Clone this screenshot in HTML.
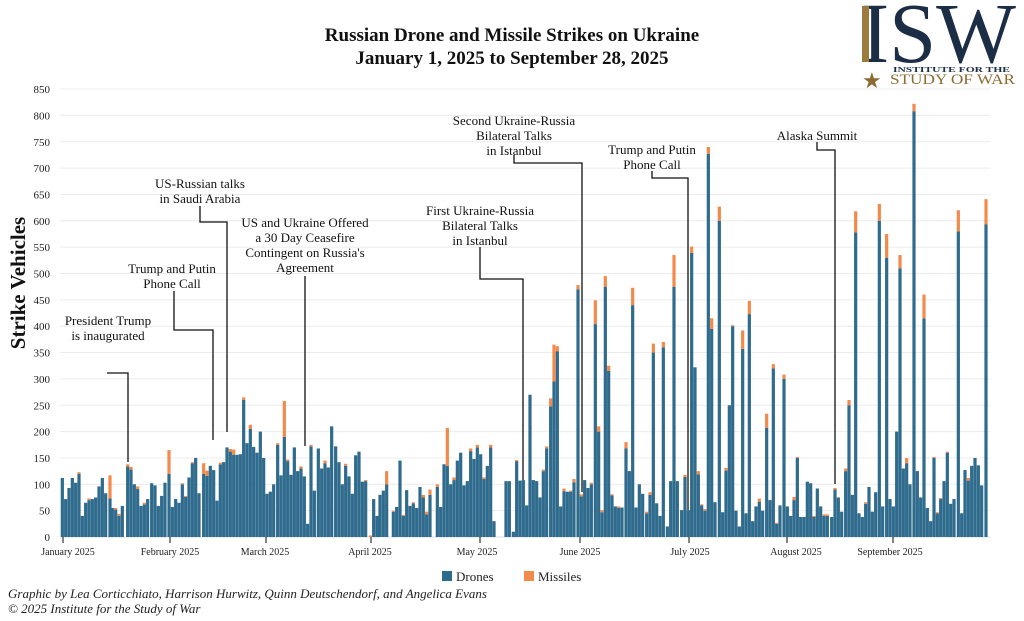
<!DOCTYPE html>
<html><head><meta charset="utf-8">
<style>
html,body{margin:0;padding:0;background:#fff;}
svg{display:block;font-family:"Liberation Serif",serif;}
</style></head>
<body>
<svg id="s" width="1024" height="621" viewBox="0 0 1024 621" xmlns="http://www.w3.org/2000/svg">
<rect width="1024" height="621" fill="#fff"/>
<g id="grid"></g>
<g id="bars"></g>
<g id="ann" fill="none" stroke="#111" stroke-width="1.3">
<polyline points="107,373 128,373 128,462"/>
<polyline points="174,291 174,330 213,330 213,440"/>
<polyline points="200,206 200,222 227,222 227,432"/>
<polyline points="305,276 305,446"/>
<polyline points="480,247 480,279 523,279 523,480"/>
<polyline points="514,155 514,163 582,163 582,492"/>
<polyline points="652,171 652,178 688,178 688,510"/>
<polyline points="817,142 817,150 835,150 835,484"/>
</g>
<g font-size="13" fill="#111" text-anchor="middle">
<text x="108" y="325">President Trump</text><text x="108" y="340">is inaugurated</text>
<text x="172" y="273">Trump and Putin</text><text x="172" y="288">Phone Call</text>
<text x="200" y="188">US-Russian talks</text><text x="200" y="203">in Saudi Arabia</text>
<text x="305" y="227">US and Ukraine Offered</text><text x="305" y="242">a 30 Day Ceasefire</text><text x="305" y="257">Contingent on Russia's</text><text x="305" y="272">Agreement</text>
<text x="480" y="215">First Ukraine-Russia</text><text x="480" y="230">Bilateral Talks</text><text x="480" y="245">in Istanbul</text>
<text x="514" y="125">Second Ukraine-Russia</text><text x="514" y="140">Bilateral Talks</text><text x="514" y="155">in Istanbul</text>
<text x="652" y="154">Trump and Putin</text><text x="652" y="169">Phone Call</text>
<text x="817" y="140">Alaska Summit</text>
</g>
<g font-weight="bold" font-size="19" fill="#111" text-anchor="middle">
<text x="512" y="41">Russian Drone and Missile Strikes on Ukraine</text>
<text x="512" y="64">January 1, 2025 to September 28, 2025</text>
</g>
<text transform="translate(25,283) rotate(-90)" text-anchor="middle" font-weight="bold" font-size="21" fill="#111">Strike Vehicles</text>
<g id="yl" font-size="11" fill="#222" text-anchor="end"></g>
<g id="xl" font-size="10" fill="#222" text-anchor="middle">
<text x="68" y="555">January 2025</text><text x="170" y="555">February 2025</text>
<text x="265" y="555">March 2025</text><text x="370" y="555">April 2025</text>
<text x="477" y="555">May 2025</text><text x="580" y="555">June 2025</text>
<text x="690" y="555">July 2025</text><text x="796" y="555">August 2025</text>
<text x="890" y="555">September 2025</text>
</g>
<g stroke="#333" stroke-width="1.2">
<line x1="63" y1="537" x2="63" y2="543"/><line x1="170" y1="537" x2="170" y2="543"/>
<line x1="266" y1="537" x2="266" y2="543"/><line x1="371" y1="537" x2="371" y2="543"/>
<line x1="480" y1="537" x2="480" y2="543"/><line x1="580" y1="537" x2="580" y2="543"/>
<line x1="689" y1="537" x2="689" y2="543"/><line x1="787" y1="537" x2="787" y2="543"/>
<line x1="893" y1="537" x2="893" y2="543"/>
</g>
<rect x="442" y="571" width="10" height="10" fill="#2f6b8c"/>
<text x="456" y="581" font-size="13" fill="#222">Drones</text>
<rect x="524" y="571" width="10" height="10" fill="#f28a4c"/>
<text x="538" y="581" font-size="13" fill="#222">Missiles</text>
<g font-style="italic" font-size="13" fill="#222">
<text x="8" y="598">Graphic by Lea Corticchiato, Harrison Hurwitz, Quinn Deutschendorf, and Angelica Evans</text>
<text x="8" y="613">© 2025 Institute for the Study of War</text>
</g>
<!-- logo -->
<g>
<text x="861" y="62" font-size="86" fill="#1b2e45" textLength="155" lengthAdjust="spacingAndGlyphs">ISW</text>
<rect x="862" y="6" width="7" height="56" fill="#9c7b3c"/>
<text x="893" y="72" font-size="7" font-weight="bold" fill="#1b2e45" textLength="117" lengthAdjust="spacingAndGlyphs">INSTITUTE FOR THE</text>
<text x="862" y="88" font-size="22" fill="#8c6a32">★</text>
<text x="890" y="84" font-size="15" fill="#8c6a32" textLength="125" lengthAdjust="spacingAndGlyphs">STUDY OF WAR</text>
</g>
</svg>
<script>
var NS="http://www.w3.org/2000/svg";
function el(p,t,a){var e=document.createElementNS(NS,t);for(var k in a)e.setAttribute(k,a[k]);p.appendChild(e);return e;}
var g=document.getElementById("grid"),yl=document.getElementById("yl");
function Y(v){return 537-v*0.527;}
for(var v=0;v<=850;v+=50){el(g,"line",{x1:60,x2:990,y1:Y(v),y2:Y(v),stroke:v?"#ececec":"#ddd","stroke-width":1});var t=el(yl,"text",{x:50,y:Y(v)+4});t.textContent=v;}
var z1=[[22,112,0],[32,72,0],[42,93,0],[52,112,0],[62,103,0],[72,120,3],[82,40,0],[92,65,0],[102,70,3],[112,72,0],[122,75,0],[132,96,0],[142,112,0],[152,83,0],[165,73,44],[172,55,0],[182,52,3],[192,40,4],[202,59,0],[218,134,4],[228,128,5],[238,100,0],[248,91,5],[258,59,0],[268,62,3],[278,72,0],[290,102,0],[300,98,0],[310,59,0],[320,78,0],[330,103,0],[342,120,45],[352,57,0],[362,72,0],[372,65,0],[382,100,2],[392,76,2],[402,113,0],[412,140,2],[422,150,0],[432,83,0],[446,120,20],[456,116,10],[466,135,0],[476,127,0],[486,69,0],[496,138,3],[506,142,0],[516,170,0],[526,162,5],[536,156,10],[546,156,0],[556,157,0],[566,260,5],[576,178,0],[586,205,8],[596,171,0],[606,160,0],[616,200,0],[626,150,0],[636,82,0],[646,86,0],[656,100,0],[668,175,3],[678,117,0],[688,190,68],[698,144,3],[708,118,0],[718,170,0],[728,125,0],[738,130,4],[748,115,0],[758,25,0],[768,172,3],[778,88,0],[790,168,0],[800,130,0],[810,140,5],[820,132,0],[830,210,0],[842,172,0],[852,142,0],[862,100,0],[872,135,4],[882,115,0],[892,82,0],[902,155,0],[912,162,0],[922,105,0],[932,106,2],[946,0,3],[956,72,0],[966,40,0]];
var z2=[[0,80,0],[10,88,0],[20,100,25],[40,48,2],[50,57,0],[60,145,0],[70,40,2],[80,89,0],[90,59,0],[100,64,2],[110,55,0],[120,95,0],[130,75,5],[140,43,5],[150,80,10],[172,95,5],[182,57,0],[192,138,0],[202,135,72],[212,100,0],[222,108,5],[232,145,0],[242,160,0],[252,98,0],[262,106,0],[272,163,5],[282,148,0],[292,170,5],[302,157,0],[312,110,3],[322,135,0],[332,170,5],[342,30,0],[378,106,0],[388,106,0],[400,10,0],[410,144,2],[420,107,0],[430,108,0],[440,60,0],[450,270,0],[460,108,0],[470,106,0],[480,75,0],[490,125,3],[500,168,4],[512,248,15],[522,295,70],[532,352,10],[542,58,0],[552,87,5],[562,86,0],[572,86,2],[582,104,6],[594,470,8],[604,77,4],[614,108,0],[624,93,0],[634,100,3],[646,404,45],[656,200,10],[666,47,4],[676,475,20],[686,315,10],[696,79,2],[706,58,0],[716,55,3],[726,56,0],[738,168,12],[748,125,0],[758,440,33],[768,56,0],[778,100,0],[788,82,0],[800,45,3],[810,80,5],[820,350,17],[830,64,0],[840,40,0],[850,360,10],[862,20,0],[872,106,0],[882,475,60],[892,106,0]];
var z3=[[5,51,0],[15,114,4],[25,51,0],[35,539,12],[45,322,0],[55,119,6],[65,60,2],[75,50,3],[85,727,13],[95,395,20],[105,66,0],[118,600,27],[128,47,0],[138,126,5],[148,250,0],[158,400,2],[168,50,0],[178,20,0],[188,357,35],[198,45,0],[208,423,25],[218,30,0],[228,58,0],[238,67,6],[248,50,0],[260,207,27],[270,70,0],[280,320,8],[290,25,2],[300,60,0],[312,300,8],[322,58,0],[332,40,0],[342,70,6],[352,150,2],[362,38,0],[372,38,0],[382,105,0],[392,102,0],[402,38,2],[412,92,0],[422,58,0],[432,40,3],[442,40,3],[455,38,0],[465,90,3],[475,75,0],[485,48,0],[497,125,5],[507,250,10],[517,80,0],[527,578,40],[537,45,0],[547,38,0],[557,63,3],[567,95,0],[577,48,0],[587,85,0],[598,600,32],[608,58,0],[620,530,45],[630,72,0],[640,58,0],[650,200,0],[660,510,25],[670,130,0],[680,140,10],[690,100,0],[702,808,14],[712,125,0],[722,75,0],[732,415,45],[742,55,0],[752,30,0],[762,150,2],[772,45,2],[782,72,2],[792,106,0],[802,160,2],[812,63,0],[822,72,0],[835,580,40],[845,45,0],[855,127,0],[865,107,5],[875,135,0],[885,150,0],[895,136,0],[905,98,0],[918,593,48]];
var b=document.getElementById("bars");
function draw(arr,ox,lim){arr.forEach(function(d){var x=ox+d[0]/3;if(lim&&x>lim)return;var w=3.2;
 if(d[1]>0)el(b,"rect",{x:x-w/2,y:Y(d[1]),width:w,height:d[1]*0.527,fill:"#2f6b8c"});
 if(d[2]>0)el(b,"rect",{x:x-w/2,y:Y(d[1]+d[2]),width:w,height:d[2]*0.527,fill:"#f28a4c"});});}
draw(z1,55,378.5);draw(z2,380,678);draw(z3,680,0);
</script>
</body></html>
